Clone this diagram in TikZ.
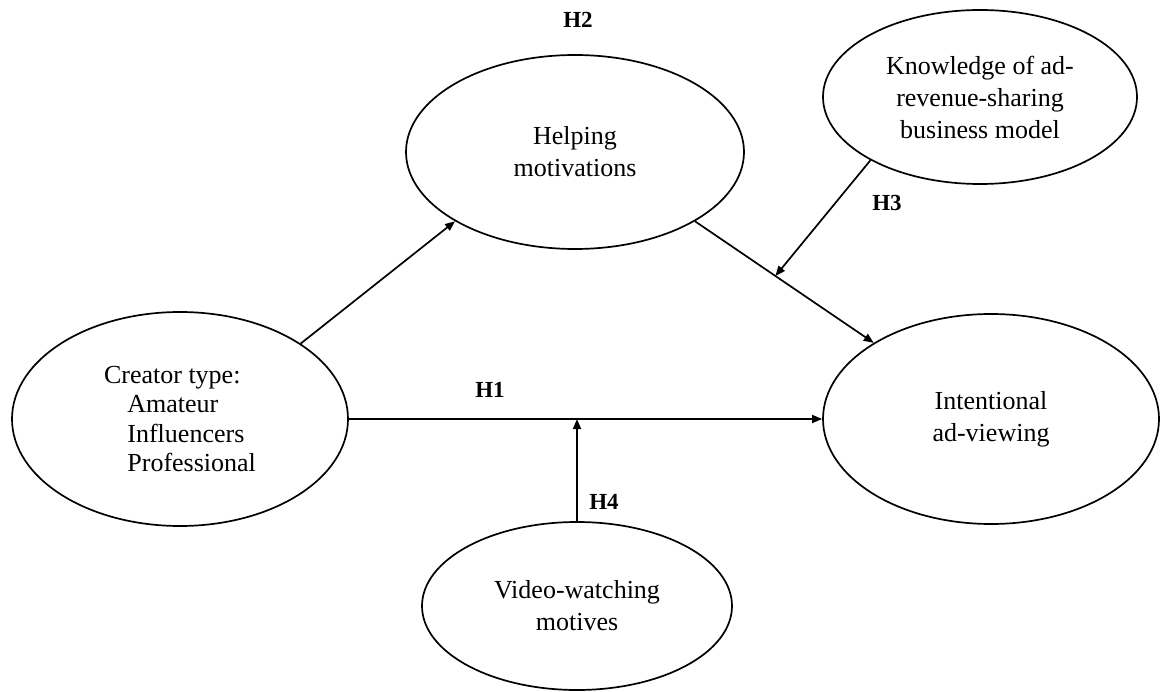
\documentclass[tikz,border=0pt]{standalone}
\usepackage{fontspec}
\setmainfont{Liberation Serif}
\usetikzlibrary{arrows.meta,shapes.geometric}

\begin{document}
\begin{tikzpicture}[x=1pt, y=-1pt,
  construct/.style={ellipse, draw=black, line width=1.7pt, inner sep=0pt, align=center,
              font=\fontsize{26}{32}\selectfont},
  hyp/.style={font=\fontsize{23}{26}\selectfont\bfseries, inner sep=0pt},
  arr/.style={-{Triangle[length=10pt,width=8pt]}, line width=1.7pt}
]
\useasboundingbox (0,0) rectangle (1161,692);

\node[construct, minimum width=336pt, minimum height=214pt, align=left,
      font=\fontsize{26}{29.5}\selectfont] (creator) at (180,419)
  {Creator type:\\\hspace*{0.9em}Amateur\\\hspace*{0.9em}Influencers\\\hspace*{0.9em}Professional};

\node[construct, minimum width=338pt, minimum height=194pt] (help) at (575,152)
  {Helping\\motivations};

\node[construct, minimum width=314pt, minimum height=174pt] (know) at (980,97)
  {Knowledge of ad-\\revenue-sharing\\business model};

\node[construct, minimum width=336pt, minimum height=210pt] (intent) at (991,419)
  {Intentional\\ad-viewing};

\node[construct, minimum width=310pt, minimum height=168pt] (video) at (577,606)
  {Video-watching\\motives};

% hypothesis labels
\node[hyp] (hOne) at (490,390) {H1};
\node[hyp] (hTwo) at (578,20) {H2};
\node[hyp] (hThree) at (887,203) {H3};
\node[hyp] (hFour) at (604,502) {H4};

% paths
\draw[arr] (creator.32.7) -- (help.210.3);
\draw[arr] (help.-30.6) -- (intent.147.4) coordinate[pos=0.45] (mThree);
\draw[arr] (creator.east) -- (intent.west) coordinate[pos=0.482] (mFour);

% moderators
\draw[arr] (know.210) -- (mThree);
\draw[arr] (video.north) -- (video.north |- mFour);
\end{tikzpicture}
\end{document}
